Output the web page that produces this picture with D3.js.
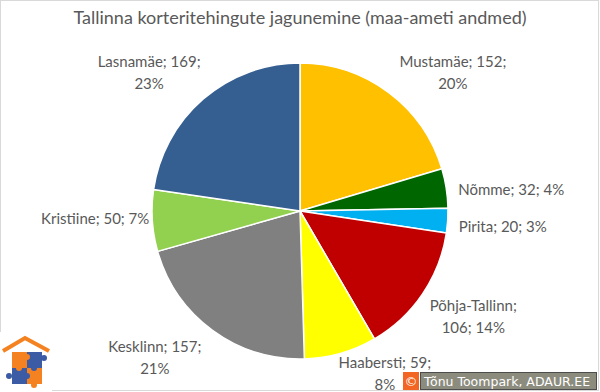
<!DOCTYPE html>
<html>
<head>
<meta charset="utf-8">
<script src="https://cdn.jsdelivr.net/npm/d3@7"></script>
<style>
  body { margin: 0; background: #fff; }
  svg { display: block; }
</style>
</head>
<body>
<div id="chart"></div>
<script>
const width = 600;
const height = 392;

// data (Maa-amet)
const districts = ["Mustamäe", "Nõmme", "Pirita", "Põhja-Tallinn", "Haabersti", "Kesklinn", "Kristiine", "Lasnamäe"];
const deals = [152, 32, 20, 106, 59, 157, 50, 169];
const colors = ["#FFC000", "#006600", "#00B0F0", "#C00000", "#FFFF00", "#808080", "#92D050", "#365F91"];
// where the label wraps: 0 = one line, 1 = after value, 2 = after name
const labelWrap = [1, 0, 0, 2, 1, 1, 0, 1];
// small hand nudges, like Excel's best fit
const labelNudge = [[14, 6], [8, 5], [7, 5], [4, 2], [24, -5], [-14, 3], [1, -3], [-1, -1]];

const cx = 300, cy = 211, radius = 148;
const total = d3.sum(deals);

const svg = d3.select("#chart").append("svg")
  .attr("width", width)
  .attr("height", height);

svg.append("rect")
  .attr("x", 0.5).attr("y", 0.5)
  .attr("width", width - 2).attr("height", height - 2)
  .attr("fill", "#fff")
  .attr("stroke", "#d9d9d9");

svg.append("text")
  .attr("x", width / 2)
  .attr("y", 24)
  .attr("text-anchor", "middle")
  .style("font-family", "Lato, 'Open Sans', sans-serif")
  .style("font-size", "18px")
  .attr("fill", "#595959")
  .text("Tallinna korteritehingute jagunemine (maa-ameti andmed)");

const pie = d3.pie().sort(null).value(d => d.value);
const arc = d3.arc().innerRadius(0).outerRadius(radius);

const data = districts.map((name, i) => ({ name, value: deals[i], color: colors[i], i }));
const arcs = pie(data);

const g = svg.append("g").attr("transform", `translate(${cx},${cy})`);

g.selectAll("path")
  .data(arcs)
  .enter()
  .append("path")
  .attr("d", arc)
  .attr("fill", d => d.data.color)
  .attr("stroke", "#fff")
  .attr("stroke-width", 1.5)
  .attr("stroke-linejoin", "round");

// labels
const lineH = 22;
arcs.forEach(d => {
  const pct = Math.round(d.data.value / total * 100) + "%";
  const name = d.data.name, val = d.data.value;
  let lines;
  if (labelWrap[d.data.i] === 1) lines = [`${name}; ${val};`, pct];
  else if (labelWrap[d.data.i] === 2) lines = [`${name};`, `${val}; ${pct}`];
  else lines = [`${name}; ${val}; ${pct}`];

  const a = (d.startAngle + d.endAngle) / 2;
  const sa = Math.sin(a), ca = -Math.cos(a);
  const r = radius + 4;
  const t = g.append("text")
    .attr("text-anchor", "middle")
    .style("font-family", "Lato, 'Open Sans', sans-serif")
    .style("font-size", "15px")
    .attr("fill", "#595959");
  lines.forEach((l, k) => {
    t.append("tspan").attr("x", 0).attr("dy", k === 0 ? 0 : lineH).text(l);
  });
  const bb = t.node().getBBox();
  const w = bb.width, h = lines.length * lineH;
  const fx = Math.max(-1, Math.min(1, sa * 1.5));
  const fy = Math.max(-1, Math.min(1, ca * 1.5));
  const nx = labelNudge[d.data.i][0], ny = labelNudge[d.data.i][1];
  const px = sa * r + fx * w / 2 + nx;
  const py = ca * r + fy * h / 2 + ny;
  const y0 = py - h / 2 + lineH * 0.72;
  t.attr("transform", `translate(${px},${y0})`);
});

// copyright badge
const badge = svg.append("g").attr("transform", "translate(403,372)");
badge.append("rect").attr("width", 16).attr("height", 18).attr("fill", "#F26522");
badge.append("text")
  .attr("x", 8).attr("y", 14)
  .attr("text-anchor", "middle")
  .style("font-family", "'DejaVu Sans', sans-serif")
  .style("font-size", "13px")
  .attr("fill", "#fff")
  .text("©");
badge.append("rect")
  .attr("x", 17.5).attr("y", 0.5)
  .attr("width", 176).attr("height", 17)
  .attr("fill", "#8c8c7e")
  .attr("stroke", "#4d4d4d");
badge.append("text")
  .attr("x", 21).attr("y", 14)
  .style("font-family", "'DejaVu Sans', sans-serif")
  .style("font-size", "12.5px")
  .attr("fill", "#fff")
  .text("Tõnu Toompark, ADAUR.EE");

// logo, bottom left
const logo = svg.append("g");
logo.append("rect").attr("x", 0).attr("y", 332).attr("width", 52).attr("height", 60).attr("fill", "#fff");
logo.append("polyline")
  .attr("points", "3,351 25,338 49,351")
  .attr("fill", "none")
  .attr("stroke", "#F58220")
  .attr("stroke-width", 4);
const pieces = [
  [12, 352, "#F58220"], [27, 352, "#3B5BA5"],
  [12, 368, "#3B5BA5"], [27, 368, "#F58220"]
];
pieces.forEach(p => {
  logo.append("rect").attr("x", p[0]).attr("y", p[1]).attr("width", 15).attr("height", 16).attr("fill", p[2]);
});
[[27, 357, "#F58220"], [34, 368, "#3B5BA5"], [19, 368, "#F58220"], [27, 376, "#3B5BA5"],
 [9, 376, "#3B5BA5"], [44, 358, "#3B5BA5"], [34, 385, "#F58220"]].forEach(k => {
  logo.append("circle").attr("cx", k[0]).attr("cy", k[1]).attr("r", 3).attr("fill", k[2]);
});
</script>
</body>
</html>
